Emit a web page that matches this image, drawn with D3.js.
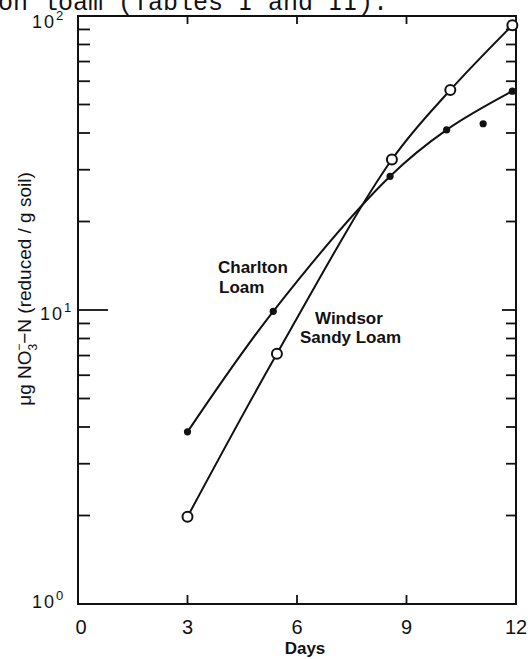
<!DOCTYPE html>
<html>
<head>
<meta charset="utf-8">
<script src="https://cdn.jsdelivr.net/npm/d3@7"></script>
<style>
  body { margin: 0; background: #fff; }
  svg text { font-family: "Liberation Sans", Arial, sans-serif; fill: #111; }
</style>
</head>
<body>
<div id="chart"></div>
<script>
'use strict';

// values (days, ug NO3-N reduced per g soil)
const charltonDays = [3.0, 5.35, 8.55, 10.1, 11.9];
const charltonValues = [3.85, 9.9, 28.5, 41.0, 55.5];
const charltonOutlier = [[11.1, 43.0]];

const windsorDays = [3.0, 5.45, 8.6, 10.2, 11.9];
const windsorValues = [1.98, 7.1, 32.5, 56.0, 93.0];

const xTicks = [0, 3, 6, 9, 12];
const xInnerTicks = [3, 6, 9];
const yDecades = [1, 10, 100];
const yDecadeExp = ['0', '1', '2'];

const width = 528, height = 659;
const plotLeft = 78, plotRight = 516, plotTop = 16, plotBottom = 604;

const svg = d3.select('#chart').append('svg')
    .attr('width', width)
    .attr('height', height);

const x = d3.scaleLinear().domain([0, 12]).range([plotLeft, plotRight]);
const y = d3.scaleLog().domain([1, 100]).range([plotBottom, plotTop]);

// clipped text line from the page above the figure
svg.append('text')
    .attr('x', -2).attr('y', 10)
    .style('font-family', '"Liberation Mono", "DejaVu Sans Mono", monospace')
    .style('font-size', '25px')
    .text('on loam (Tables I and II).');

// frame
svg.append('rect')
    .attr('x', plotLeft).attr('y', plotTop)
    .attr('width', plotRight - plotLeft).attr('height', plotBottom - plotTop)
    .attr('fill', 'none').attr('stroke', '#111').attr('stroke-width', 2);

// minor log ticks 2..9 in each decade
const minor = [];
[1, 10].forEach(d => { for (let k = 2; k <= 9; k++) minor.push(d * k); });

const ticks = svg.append('g').attr('stroke', '#111').attr('stroke-width', 1.8);
ticks.selectAll('.yl').data(minor).join('line')
    .attr('x1', plotLeft).attr('x2', plotLeft + 12)
    .attr('y1', d => y(d)).attr('y2', d => y(d));
ticks.selectAll('.yr').data(minor).join('line')
    .attr('x1', plotRight).attr('x2', plotRight - 10)
    .attr('y1', d => y(d)).attr('y2', d => y(d));
// major tick at 10^1
ticks.append('line')
    .attr('x1', plotLeft).attr('x2', plotLeft + 30)
    .attr('y1', y(10)).attr('y2', y(10));
ticks.append('line')
    .attr('x1', plotRight).attr('x2', plotRight - 14)
    .attr('y1', y(10)).attr('y2', y(10));
ticks.selectAll('.xb').data(xInnerTicks).join('line')
    .attr('x1', d => x(d)).attr('x2', d => x(d))
    .attr('y1', plotBottom).attr('y2', plotBottom - 9);
ticks.selectAll('.xt').data(xInnerTicks).join('line')
    .attr('x1', d => x(d)).attr('x2', d => x(d))
    .attr('y1', plotTop).attr('y2', plotTop + 8);

// x tick labels
svg.selectAll('.xlab').data(xTicks).join('text')
    .attr('x', d => x(d) + (d === 0 ? 3 : 0))
    .attr('y', plotBottom + 30)
    .attr('text-anchor', 'middle')
    .style('font-size', '20px')
    .text(d => d);

// y decade labels
const yl = svg.selectAll('.ylab').data(yDecades).join('text')
    .attr('x', (d, i) => i === 1 ? 40 : 32)
    .attr('y', d => y(d) + (d === 100 ? 12 : (d === 1 ? 4 : 10)))
    .style('font-size', '18px')
    .style('letter-spacing', '2px');
yl.append('tspan').text('10');
yl.append('tspan')
    .attr('dy', -8)
    .style('font-size', '13px')
    .text((d, i) => yDecadeExp[i]);

// axis titles
svg.append('text')
    .attr('x', x(6) + 8)
    .attr('y', 654)
    .attr('text-anchor', 'middle')
    .style('font-size', '17px')
    .style('font-weight', 'bold')
    .text('Days');

const yt = svg.append('text')
    .attr('transform', 'translate(31,289) rotate(-90)')
    .attr('text-anchor', 'middle')
    .style('font-size', '19px');
yt.append('tspan').text('\u03bcg NO');
yt.append('tspan').attr('dy', 6).style('font-size', '12px').text('3');
yt.append('tspan').attr('dy', -14).attr('dx', -7).style('font-size', '12px').text('\u2212');
yt.append('tspan').attr('dy', 8).text('\u2212N (reduced / g soil)');

// curves
const line = d3.line()
    .x(d => x(d[0]))
    .y(d => y(d[1]))
    .curve(d3.curveCatmullRom.alpha(0.5));

const charlton = charltonDays.map((d, i) => [d, charltonValues[i]]);
const windsor = windsorDays.map((d, i) => [d, windsorValues[i]]);

svg.append('path').datum(charlton)
    .attr('d', line)
    .attr('fill', 'none').attr('stroke', '#111').attr('stroke-width', 2);
svg.append('path').datum(windsor)
    .attr('d', line)
    .attr('fill', 'none').attr('stroke', '#111').attr('stroke-width', 2);

svg.selectAll('.cp').data(charlton.concat(charltonOutlier)).join('circle')
    .attr('cx', d => x(d[0])).attr('cy', d => y(d[1]))
    .attr('r', 3.6).attr('fill', '#111');
svg.selectAll('.wp').data(windsor).join('circle')
    .attr('cx', d => x(d[0])).attr('cy', d => y(d[1]))
    .attr('r', 5).attr('fill', '#fff')
    .attr('stroke', '#111').attr('stroke-width', 2);

// series labels
const lab = svg.append('g')
    .style('font-size', '17px')
    .style('font-weight', 'bold');
lab.append('text').attr('x', 218).attr('y', 273).text('Charlton');
lab.append('text').attr('x', 219).attr('y', 293).text('Loam');
lab.append('text').attr('x', 315).attr('y', 324).text('Windsor');
lab.append('text').attr('x', 300).attr('y', 343).text('Sandy Loam');
</script>
</body>
</html>
